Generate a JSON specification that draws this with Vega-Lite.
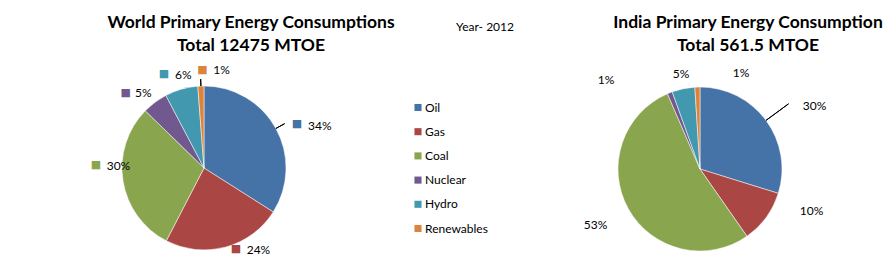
{
  "$schema": "https://vega.github.io/schema/vega-lite/v6.json",
  "background": "white",
  "padding": {"left": 0, "top": 14, "right": 0, "bottom": 0},
  "spacing": 0,
  "config": {"view": {"stroke": null}, "font": "Lato", "text": {"font": "Lato", "fontSize": 12, "color": "#000000"}},
  "datasets": {
    "world": [
      {"type": "Oil", "order": 1, "value": 34.0, "label": "34%"},
      {"type": "Gas", "order": 2, "value": 23.6, "label": "24%"},
      {"type": "Coal", "order": 3, "value": 29.7, "label": "30%"},
      {"type": "Nuclear", "order": 4, "value": 5.0, "label": "5%"},
      {"type": "Hydro", "order": 5, "value": 6.5, "label": "6%"},
      {"type": "Renewables", "order": 6, "value": 1.2, "label": "1%"}
    ],
    "india": [
      {"type": "Oil", "order": 1, "value": 29.8, "label": "30%"},
      {"type": "Gas", "order": 2, "value": 10.5, "label": "10%"},
      {"type": "Coal", "order": 3, "value": 53.2, "label": "53%"},
      {"type": "Nuclear", "order": 4, "value": 1.0, "label": "1%"},
      {"type": "Hydro", "order": 5, "value": 4.5, "label": "5%"},
      {"type": "Renewables", "order": 6, "value": 1.0, "label": "1%"}
    ]
  },
  "hconcat": [
    {
      "width": 408,
      "height": 214,
      "title": {"text": ["World Primary Energy Consumptions", "Total 12475 MTOE"], "font": "Lato", "fontSize": 17.5, "fontWeight": "bold", "lineHeight": 23, "anchor": "middle", "frame": "group", "dx": 47, "offset": 6.5, "color": "#000000"},
      "data": {"name": "world"},
      "encoding": {
        "theta": {"field": "value", "type": "quantitative", "stack": true},
        "order": {"field": "order", "type": "quantitative"}
      },
      "layer": [
        {"mark": {"type": "arc", "radius": 82, "stroke": "#ffffff", "strokeWidth": 0.5},
         "encoding": {"color": {"field": "type", "type": "nominal", "legend": null, "scale": {"domain": ["Oil", "Gas", "Coal", "Nuclear", "Hydro", "Renewables"], "range": ["#4572A7", "#AA4643", "#89A54E", "#71588F", "#4198AF", "#DB843D"]}}}},
        {"mark": {"type": "arc", "clip": true, "filled": false, "radius": 92, "radius2": 82, "padAngle": 3.14159, "stroke": "#000000", "strokeWidth": 1},
         "encoding": {"detail": {"field": "type"}, "strokeOpacity": {"condition": {"test": "datum.type === 'Oil'", "value": 1}, "value": 0}}},
        {"mark": {"type": "arc", "clip": true, "filled": false, "radius": 89, "radius2": 82, "padAngle": 3.14159, "stroke": "#000000", "strokeWidth": 1},
         "encoding": {"detail": {"field": "type"}, "strokeOpacity": {"condition": {"test": "datum.type === 'Renewables'", "value": 1}, "value": 0}}},
        {"mark": {"type": "text", "clip": true, "radius": 100, "font": "DejaVu Sans", "fontSize": 11, "align": "center", "baseline": "middle", "dx": 5.4, "dy": 4.5},
         "encoding": {"color": {"field": "type", "type": "nominal", "legend": null, "scale": {"domain": ["Oil", "Gas", "Coal", "Nuclear", "Hydro", "Renewables"], "range": ["#4572A7", "#AA4643", "#89A54E", "#71588F", "#4198AF", "#DB843D"]}},
                      "text": {"condition": {"test": "datum.type === 'Oil'", "value": "■"}, "value": ""}}},
        {"mark": {"type": "text", "clip": true, "radius": 100, "font": "DejaVu Sans", "fontSize": 11, "align": "center", "baseline": "middle", "dx": 5.9, "dy": -15.5},
         "encoding": {"color": {"field": "type", "type": "nominal", "legend": null, "scale": {"domain": ["Oil", "Gas", "Coal", "Nuclear", "Hydro", "Renewables"], "range": ["#4572A7", "#AA4643", "#89A54E", "#71588F", "#4198AF", "#DB843D"]}},
                      "text": {"condition": {"test": "datum.type === 'Gas'", "value": "■"}, "value": ""}}},
        {"mark": {"type": "text", "clip": true, "radius": 100, "font": "DejaVu Sans", "fontSize": 11, "align": "center", "baseline": "middle", "dx": -9.3, "dy": -18.5},
         "encoding": {"color": {"field": "type", "type": "nominal", "legend": null, "scale": {"domain": ["Oil", "Gas", "Coal", "Nuclear", "Hydro", "Renewables"], "range": ["#4572A7", "#AA4643", "#89A54E", "#71588F", "#4198AF", "#DB843D"]}},
                      "text": {"condition": {"test": "datum.type === 'Coal'", "value": "■"}, "value": ""}}},
        {"mark": {"type": "text", "clip": true, "radius": 100, "font": "DejaVu Sans", "fontSize": 11, "align": "center", "baseline": "middle", "dx": -18.5, "dy": 4.9},
         "encoding": {"color": {"field": "type", "type": "nominal", "legend": null, "scale": {"domain": ["Oil", "Gas", "Coal", "Nuclear", "Hydro", "Renewables"], "range": ["#4572A7", "#AA4643", "#89A54E", "#71588F", "#4198AF", "#DB843D"]}},
                      "text": {"condition": {"test": "datum.type === 'Nuclear'", "value": "■"}, "value": ""}}},
        {"mark": {"type": "text", "clip": true, "radius": 100, "font": "DejaVu Sans", "fontSize": 11, "align": "center", "baseline": "middle", "dx": -12.4, "dy": 2.4},
         "encoding": {"color": {"field": "type", "type": "nominal", "legend": null, "scale": {"domain": ["Oil", "Gas", "Coal", "Nuclear", "Hydro", "Renewables"], "range": ["#4572A7", "#AA4643", "#89A54E", "#71588F", "#4198AF", "#DB843D"]}},
                      "text": {"condition": {"test": "datum.type === 'Hydro'", "value": "■"}, "value": ""}}},
        {"mark": {"type": "text", "clip": true, "radius": 100, "font": "DejaVu Sans", "fontSize": 11, "align": "center", "baseline": "middle", "dx": 2.1, "dy": 1.6},
         "encoding": {"color": {"field": "type", "type": "nominal", "legend": null, "scale": {"domain": ["Oil", "Gas", "Coal", "Nuclear", "Hydro", "Renewables"], "range": ["#4572A7", "#AA4643", "#89A54E", "#71588F", "#4198AF", "#DB843D"]}},
                      "text": {"condition": {"test": "datum.type === 'Renewables'", "value": "■"}, "value": ""}}},
        {"mark": {"type": "text", "clip": true, "radius": 100, "align": "left", "baseline": "middle", "dx": 16.4, "dy": 5.7},
         "encoding": {"detail": {"field": "type"}, "text": {"condition": {"test": "datum.type === 'Oil'", "field": "label"}, "value": ""}}},
        {"mark": {"type": "text", "clip": true, "radius": 100, "align": "left", "baseline": "middle", "dx": 16.6, "dy": -15},
         "encoding": {"detail": {"field": "type"}, "text": {"condition": {"test": "datum.type === 'Gas'", "field": "label"}, "value": ""}}},
        {"mark": {"type": "text", "clip": true, "radius": 100, "align": "left", "baseline": "middle", "dx": 1.4, "dy": -17.8},
         "encoding": {"detail": {"field": "type"}, "text": {"condition": {"test": "datum.type === 'Coal'", "field": "label"}, "value": ""}}},
        {"mark": {"type": "text", "clip": true, "radius": 100, "align": "left", "baseline": "middle", "dx": -9.2, "dy": 5.2},
         "encoding": {"detail": {"field": "type"}, "text": {"condition": {"test": "datum.type === 'Nuclear'", "field": "label"}, "value": ""}}},
        {"mark": {"type": "text", "clip": true, "radius": 100, "align": "left", "baseline": "middle", "dx": -1.4, "dy": 3.1},
         "encoding": {"detail": {"field": "type"}, "text": {"condition": {"test": "datum.type === 'Hydro'", "field": "label"}, "value": ""}}},
        {"mark": {"type": "text", "clip": true, "radius": 100, "align": "left", "baseline": "middle", "dx": 13.1, "dy": 2.4},
         "encoding": {"detail": {"field": "type"}, "text": {"condition": {"test": "datum.type === 'Renewables'", "field": "label"}, "value": ""}}}
      ]
    },
    {
      "width": 154,
      "height": 214,
      "title": {"text": "Year- 2012", "font": "Lato", "fontSize": 12, "fontWeight": "normal", "anchor": "middle", "frame": "group", "offset": 27.5, "color": "#000000"},
      "data": {"name": "world"},
      "encoding": {
        "y": {"field": "type", "type": "nominal", "sort": ["Oil", "Gas", "Coal", "Nuclear", "Hydro", "Renewables"], "scale": {"type": "point", "padding": 0, "range": [46.5, 167.5]}, "axis": null}
      },
      "layer": [
        {"mark": {"type": "point", "shape": "square", "filled": true, "opacity": 1, "size": 50, "xOffset": -67},
         "encoding": {"color": {"field": "type", "type": "nominal", "legend": null, "scale": {"domain": ["Oil", "Gas", "Coal", "Nuclear", "Hydro", "Renewables"], "range": ["#4572A7", "#AA4643", "#89A54E", "#71588F", "#4198AF", "#DB843D"]}}}},
        {"mark": {"type": "text", "align": "left", "baseline": "middle", "fontSize": 12, "dx": -60},
         "encoding": {"text": {"field": "type"}}}
      ]
    },
    {
      "width": 276,
      "height": 216,
      "title": {"text": ["India Primary Energy Consumption", "Total 561.5 MTOE"], "font": "Lato", "fontSize": 17.5, "fontWeight": "bold", "lineHeight": 23, "anchor": "middle", "frame": "group", "dx": 48, "offset": 6.5, "color": "#000000"},
      "data": {"name": "india"},
      "encoding": {
        "theta": {"field": "value", "type": "quantitative", "stack": true},
        "order": {"field": "order", "type": "quantitative"}
      },
      "layer": [
        {"mark": {"type": "arc", "radius": 82, "stroke": "#ffffff", "strokeWidth": 0.5},
         "encoding": {"color": {"field": "type", "type": "nominal", "legend": null, "scale": {"domain": ["Oil", "Gas", "Coal", "Nuclear", "Hydro", "Renewables"], "range": ["#4572A7", "#AA4643", "#89A54E", "#71588F", "#4198AF", "#DB843D"]}}}},
        {"mark": {"type": "arc", "clip": true, "filled": false, "radius": 110, "radius2": 82, "padAngle": 3.14159, "stroke": "#000000", "strokeWidth": 1},
         "encoding": {"detail": {"field": "type"}, "strokeOpacity": {"condition": {"test": "datum.type === 'Oil'", "value": 1}, "value": 0}}},
        {"mark": {"type": "text", "clip": true, "radius": 100, "align": "center", "baseline": "middle", "dx": 34, "dy": -4},
         "encoding": {"detail": {"field": "type"}, "text": {"condition": {"test": "datum.type === 'Oil'", "field": "label"}, "value": ""}}},
        {"mark": {"type": "text", "clip": true, "radius": 100, "align": "center", "baseline": "middle", "dx": 30.8, "dy": -17},
         "encoding": {"detail": {"field": "type"}, "text": {"condition": {"test": "datum.type === 'Gas'", "field": "label"}, "value": ""}}},
        {"mark": {"type": "text", "clip": true, "radius": 100, "align": "center", "baseline": "middle", "dx": -17.2, "dy": 6.8},
         "encoding": {"detail": {"field": "type"}, "text": {"condition": {"test": "datum.type === 'Coal'", "field": "label"}, "value": ""}}},
        {"mark": {"type": "text", "clip": true, "radius": 100, "align": "center", "baseline": "middle", "dx": -57.2, "dy": 3.5},
         "encoding": {"detail": {"field": "type"}, "text": {"condition": {"test": "datum.type === 'Nuclear'", "field": "label"}, "value": ""}}},
        {"mark": {"type": "text", "clip": true, "radius": 100, "align": "center", "baseline": "middle", "dx": 1.3, "dy": 3.4},
         "encoding": {"detail": {"field": "type"}, "text": {"condition": {"test": "datum.type === 'Hydro'", "field": "label"}, "value": ""}}},
        {"mark": {"type": "text", "clip": true, "radius": 100, "align": "center", "baseline": "middle", "dx": 44.1, "dy": 4},
         "encoding": {"detail": {"field": "type"}, "text": {"condition": {"test": "datum.type === 'Renewables'", "field": "label"}, "value": ""}}}
      ]
    }
  ]
}
